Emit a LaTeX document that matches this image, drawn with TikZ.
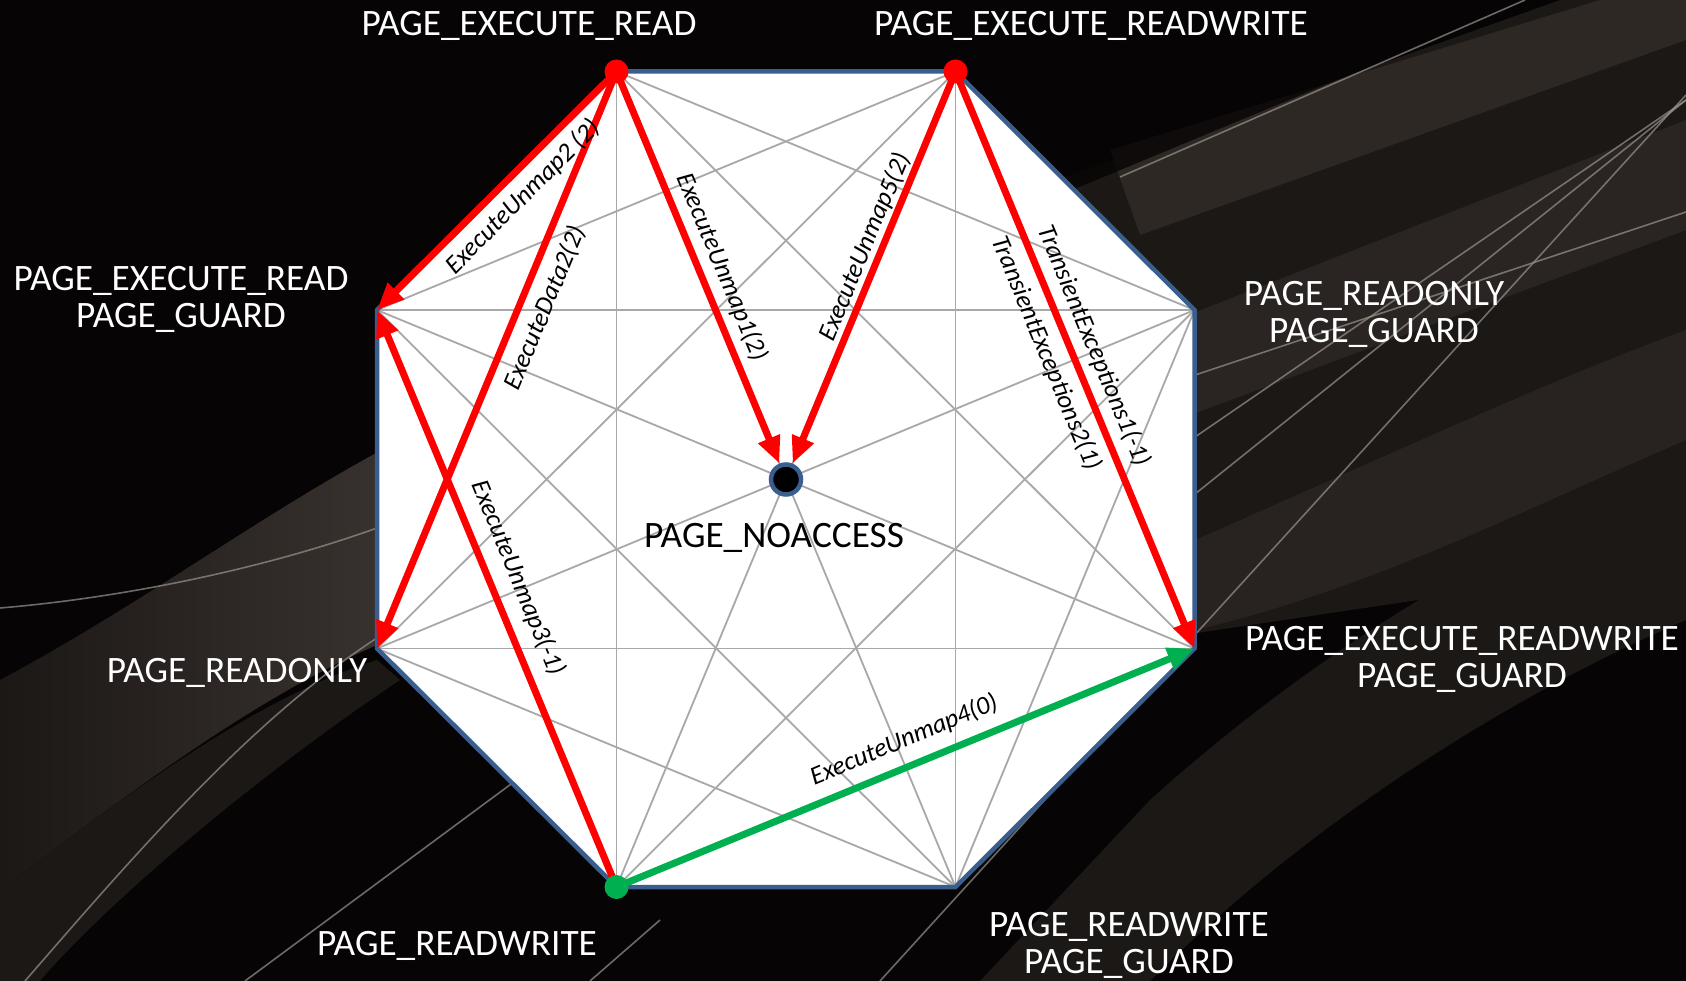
\documentclass[tikz,border=0pt]{standalone}
\usepackage{fontspec}
\setmainfont{Carlito}
\usetikzlibrary{arrows.meta}
\definecolor{bg}{HTML}{060404}
\definecolor{bandA}{HTML}{2E2825}
\definecolor{bandB}{HTML}{1C1816}
\definecolor{bandL}{HTML}{3B3431}
\definecolor{swline}{HTML}{9A948E}
\definecolor{edgeblue}{HTML}{3A5F8E}
\definecolor{gridgray}{HTML}{A8A8A8}
\definecolor{arrred}{HTML}{FF0000}
\definecolor{arrgreen}{HTML}{00B050}
\begin{document}
\begin{tikzpicture}[x=1pt,y=-1pt,
  state/.style={text=white, font=\fontsize{37.3}{37}\selectfont, align=center, inner sep=0pt},
  lbl/.style={font=\fontsize{26}{28}\selectfont\itshape, inner sep=0pt, text=black},
  redarrow/.style={draw=arrred, line width=7pt, -{Triangle[length=27pt,width=22pt]}},
  greenarrow/.style={draw=arrgreen, line width=7pt, -{Triangle[length=27pt,width=22pt]}},
  gridline/.style={draw=gridgray, line width=1.8pt},
  swoosh/.style={draw=swline, line width=1.6pt, opacity=0.7},
  dotnode/.style={circle, inner sep=0pt, minimum size=24pt}
]
\useasboundingbox (0,0) rectangle (1686,981);
% background
\fill[bg] (0,0) rectangle (1686,981);
% right side
\fill[bandB] (1000,200) -- (1560,0) -- (1686,0) -- (1686,560) -- (1150,640) -- (1150,300) -- cycle;
\fill[bandA] (1110,150) -- (1600,0) -- (1686,0) -- (1686,40) -- (1140,235) -- cycle;
\fill[bg, opacity=0.8] (1030,150) -- (1460,0) -- (1530,0) -- (1060,195) -- cycle;
\fill[bandA, opacity=0.8] (1150,330) -- (1686,120) -- (1686,230) -- (1150,430) -- cycle;
\fill[bandA, opacity=0.7] (1150,560) .. controls (1400,450) and (1550,380) .. (1686,330) -- (1686,440) .. controls (1500,520) and (1350,600) .. (1150,640) -- cycle;
\fill[bandB] (980,981) -- (1150,800) .. controls (1350,620) and (1550,520) .. (1686,470) -- (1686,620) .. controls (1500,700) and (1300,830) .. (1150,981) -- cycle;
% left side
\shade[left color=bandB, right color=bandL] (0,680) .. controls (150,600) and (280,500) .. (420,430) -- (420,650) -- (377,645) .. controls (250,700) and (120,800) .. (0,890) -- cycle;
\fill[bandB] (0,890) .. controls (120,800) and (250,700) .. (377,660) -- (400,680) .. controls (250,780) and (100,910) .. (40,981) -- (0,981) -- cycle;
\draw[swoosh] (0,608) .. controls (120,598) and (260,570) .. (377,528);
\draw[swoosh] (25,981) .. controls (130,860) and (250,720) .. (377,638);
\draw[swoosh] (245,981) -- (530,770);
\draw[swoosh] (590,981) -- (660,920);
\draw[swoosh] (1120,177) -- (1525,0);
\draw[swoosh] (1195,375) -- (1686,212);
\draw[swoosh] (1195,437) -- (1686,100);
\draw[swoosh] (1195,494) -- (1686,100);
\draw[swoosh] (880,981) -- (1686,95);
% vertices
\coordinate (v1) at (616.5,71.5);
\coordinate (v2) at (955.5,71.5);
\coordinate (v3) at (1194.5,310);
\coordinate (v4) at (1194.5,648.5);
\coordinate (v5) at (955.5,887);
\coordinate (v6) at (616.5,887);
\coordinate (v7) at (377,648.5);
\coordinate (v8) at (377,310);
% octagon
\fill[white] (v1)--(v2)--(v3)--(v4)--(v5)--(v6)--(v7)--(v8)--cycle;
\foreach \i in {1,...,7}{
  \pgfmathtruncatemacro\k{\i+1}
  \foreach \j in {\k,...,8}{ \draw[gridline] (v\i) -- (v\j); }
}
\draw[draw=edgeblue, line width=4.5pt, line join=miter] (v1)--(v2)--(v3)--(v4)--(v5)--(v6)--(v7)--(v8)--cycle;
% center
\node[circle, fill=black, draw=edgeblue, line width=4.5pt, minimum size=30pt, inner sep=0pt] (c) at (786,479.5) {};
% arrows
\draw[redarrow] (v1) -- (v8);
\draw[redarrow] (v1) -- (v7);
\draw[redarrow] (v1) -- (c);
\draw[redarrow] (v2) -- (c);
\draw[redarrow] (v2) -- (v4);
\draw[redarrow] (v6) -- (v8);
\draw[greenarrow] (v6) -- (v4);
\node[dotnode, fill=arrred] (d1) at (v1) {};
\node[dotnode, fill=arrred] (d2) at (v2) {};
\node[dotnode, fill=arrgreen] (d6) at (v6) {};
% arrow labels
\node[lbl, rotate=45] (a1) at (523,197) {ExecuteUnmap2 (2)};
\node[lbl, rotate=67.5] (a2) at (545,308) {ExecuteData2(2)};
\node[lbl, rotate=-67.5] (a3) at (722,267) {ExecuteUnmap1(2)};
\node[lbl, rotate=67.5] (a4) at (865,247) {ExecuteUnmap5(2)};
\node[lbl, rotate=-67.5] (a5) at (1094,346) {TransientExceptions1(-1)};
\node[lbl, rotate=-67.5] (a6) at (1046,353) {TransientExceptions2(1)};
\node[lbl, rotate=-67.5] (a7) at (518,578) {ExecuteUnmap3(-1)};
\node[lbl, rotate=22.5] (a8) at (904,740) {ExecuteUnmap4(0)};
% state labels
\node[state] (l1) at (529,26) {PAGE\_EXECUTE\_READ};
\node[state] (l2) at (1091,26) {PAGE\_EXECUTE\_READWRITE};
\node[state] (l8) at (181,299) {PAGE\_EXECUTE\_READ\\PAGE\_GUARD};
\node[state] (l3) at (1374,314) {PAGE\_READONLY\\PAGE\_GUARD};
\node[state] (l7) at (237,673) {PAGE\_READONLY};
\node[state] (l4) at (1462,659) {PAGE\_EXECUTE\_READWRITE\\PAGE\_GUARD};
\node[state] (l6) at (457,946) {PAGE\_READWRITE};
\node[state] (l5) at (1129,945) {PAGE\_READWRITE\\PAGE\_GUARD};
\node[state, text=black] (lc) at (774,538) {PAGE\_NOACCESS};
\end{tikzpicture}
\end{document}
